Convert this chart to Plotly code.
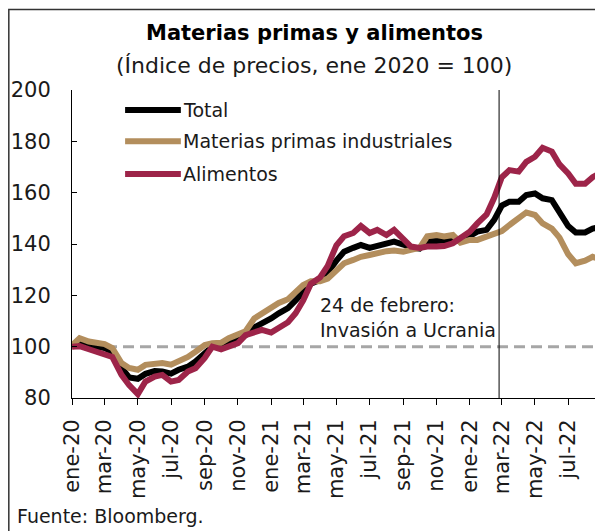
import pandas as pd
import plotly.graph_objects as go

# fechas quincenales (1 y 15 de cada mes) + último dato
fechas = list(pd.date_range("2020-01-01", "2022-08-15", freq="SMS")) + [pd.Timestamp("2022-08-31")]

total = [
    100.0, 101.5, 100.5, 100.0, 99.5, 98.0, 91.7, 88.0, 87.5, 89.4, 90.5, 90.3,
    89.5, 91.0, 92.2, 94.2, 97.5, 100.0, 100.6, 102.0, 103.3, 104.5, 107.5, 109.0,
    111.0, 113.0, 115.0, 118.0, 121.0, 124.5, 126.0, 129.0, 133.5, 137.0, 138.5, 139.6,
    138.5, 139.3, 140.3, 140.9, 139.8, 138.6, 138.2, 141.0, 141.2, 141.6, 141.6, 141.0,
    142.9, 144.8, 145.5, 149.4, 155.0, 156.5, 156.5, 159.1, 159.7, 157.8, 157.1, 152.0,
    147.0, 144.5, 144.5, 146.0, 146.7,
]
materias = [
    100.5, 103.3, 102.0, 101.5, 101.0, 99.5, 93.6, 91.7, 91.0, 92.9, 93.3, 93.6,
    93.0, 94.2, 96.0, 98.0, 100.6, 101.3, 101.5, 103.3, 104.5, 106.0, 111.0, 113.0,
    115.0, 117.0, 118.5, 121.5, 124.0, 125.5, 125.5, 126.5, 129.5, 132.5, 133.8, 135.0,
    135.7, 136.5, 137.2, 137.5, 137.0, 137.7, 138.5, 143.0, 143.5, 142.9, 143.5, 140.5,
    141.6, 141.6, 142.9, 144.0, 145.0, 147.4, 150.3, 152.3, 151.3, 148.0, 146.0, 142.5,
    136.0, 132.5, 133.5, 135.0, 134.0,
]
alimentos = [
    100.0, 100.2, 99.0, 98.0, 97.0, 96.0, 89.0, 85.0, 81.5, 86.4, 88.3, 89.0,
    86.4, 87.0, 90.3, 91.6, 95.6, 100.0, 99.0, 100.0, 101.4, 104.5, 105.5, 106.5,
    105.5, 107.5, 109.5, 113.0, 118.0, 124.5, 127.0, 131.5, 139.5, 143.0, 144.3, 147.0,
    144.3, 145.5, 143.5, 145.5, 142.3, 139.0, 138.5, 139.0, 139.0, 139.2, 140.3, 142.5,
    144.8, 148.0, 151.5, 158.0, 166.0, 168.8, 168.2, 172.0, 174.0, 177.5, 176.0, 171.0,
    167.5, 163.5, 163.5, 166.0, 168.0,
]

meses_ticks = pd.date_range("2020-01-01", "2022-07-01", freq="2MS")
MESES_ES = ["ene", "feb", "mar", "abr", "may", "jun", "jul", "ago", "sep", "oct", "nov", "dic"]
etiquetas_ticks = [f"{MESES_ES[d.month - 1]}-{d.strftime('%y')}" for d in meses_ticks]

fecha_invasion = "2022-02-24"
rango_x = ["2020-01-01", "2022-09-03"]

COLORES = {"Total": "#000000", "Materias primas industriales": "#B38E5D", "Alimentos": "#9D2449"}
FUENTE = "DejaVu Sans"
GRIS_TEXTO = "#1a1a1a"

fig = go.Figure()

series = [("Total", total), ("Materias primas industriales", materias), ("Alimentos", alimentos)]
for nombre, valores in series:
    fig.add_trace(go.Scatter(
        x=fechas, y=valores, mode="lines", name=nombre,
        line=dict(color=COLORES[nombre], width=6),
        showlegend=False,
    ))

# eje x auxiliar solo para que las marcas crucen el eje (arriba y abajo)
fig.add_trace(go.Scatter(x=[], y=[], xaxis="x2", showlegend=False, hoverinfo="skip"))

# línea de referencia en 100
fig.add_hline(y=100, line=dict(color="#A6A6A6", width=3, dash="11px,6px"), layer="below")

# invasión a Ucrania
fig.add_shape(type="line", xref="x", yref="paper", x0=fecha_invasion, x1=fecha_invasion,
              y0=0, y1=1, line=dict(color="#000000", width=1))
fig.add_annotation(x=fecha_invasion, y=111.5, xref="x", yref="y", xanchor="right", yanchor="middle",
                   xshift=-1, align="left", showarrow=False,
                   text="24 de febrero:<br>Invasión a Ucrania",
                   font=dict(family=FUENTE, size=19, color=GRIS_TEXTO))

# leyenda manual (líneas largas como en la original)
for i, (nombre, _) in enumerate(series):
    yy = [0.935, 0.834, 0.727][i]
    fig.add_shape(type="line", xref="paper", yref="paper", x0=0.10, x1=0.205, y0=yy, y1=yy,
                  line=dict(color=COLORES[nombre], width=6))
    fig.add_annotation(x=0.206, y=yy, xref="paper", yref="paper", xanchor="left", yanchor="middle",
                       showarrow=False, text=nombre,
                       font=dict(family=FUENTE, size=19, color=GRIS_TEXTO))

# títulos
fig.add_annotation(x=0.456, y=1.185, xref="paper", yref="paper", xanchor="center", yanchor="middle",
                   showarrow=False, text="<b>Materias primas y alimentos</b>",
                   font=dict(family=FUENTE, size=21, color="#000000"))
fig.add_annotation(x=0.456, y=1.081, xref="paper", yref="paper", xanchor="center", yanchor="middle",
                   showarrow=False, text="(Índice de precios, ene 2020 = 100)",
                   font=dict(family=FUENTE, size=22, color=GRIS_TEXTO))
fig.add_annotation(x=-0.107, y=-0.384, xref="paper", yref="paper", xanchor="left", yanchor="middle",
                   showarrow=False, text="Fuente: Bloomberg.",
                   font=dict(family=FUENTE, size=19, color=GRIS_TEXTO))

# marco (bordes superior e izquierdo visibles)
fig.add_shape(type="rect", xref="paper", yref="paper", x0=-0.1190, x1=1.1, y0=-0.6, y1=1.2614,
              line=dict(color="#333333", width=1.5), layer="below")

fig.update_layout(
    # la página añade 8 px de margen, por eso 595x523
    width=595, height=523,
    margin=dict(l=64, r=0, t=82, b=133),
    plot_bgcolor="white", paper_bgcolor="white",
    font=dict(family=FUENTE),
    xaxis=dict(
        range=rango_x,
        tickvals=meses_ticks, ticktext=etiquetas_ticks, tickangle=-90,
        showline=True, linecolor="#000000", linewidth=1,
        ticks="outside", ticklen=6, tickcolor="#000000",
        showgrid=False, zeroline=False, ticklabelstandoff=6,
        tickfont=dict(family=FUENTE, size=21, color=GRIS_TEXTO),
    ),
    xaxis2=dict(
        overlaying="x", anchor="y", side="bottom", range=rango_x,
        tickvals=meses_ticks, showticklabels=False,
        ticks="inside", ticklen=4, tickcolor="#000000",
        showline=False, showgrid=False, zeroline=False,
    ),
    yaxis=dict(
        range=[80, 200], tickvals=[80, 100, 120, 140, 160, 180, 200],
        showline=True, linecolor="#000000", linewidth=1,
        ticks="inside", ticklen=5, tickcolor="#000000",
        showgrid=False, zeroline=False, ticklabelstandoff=16,
        tickfont=dict(family=FUENTE, size=21, color=GRIS_TEXTO),
    ),
)

fig.write_html("out.html")
